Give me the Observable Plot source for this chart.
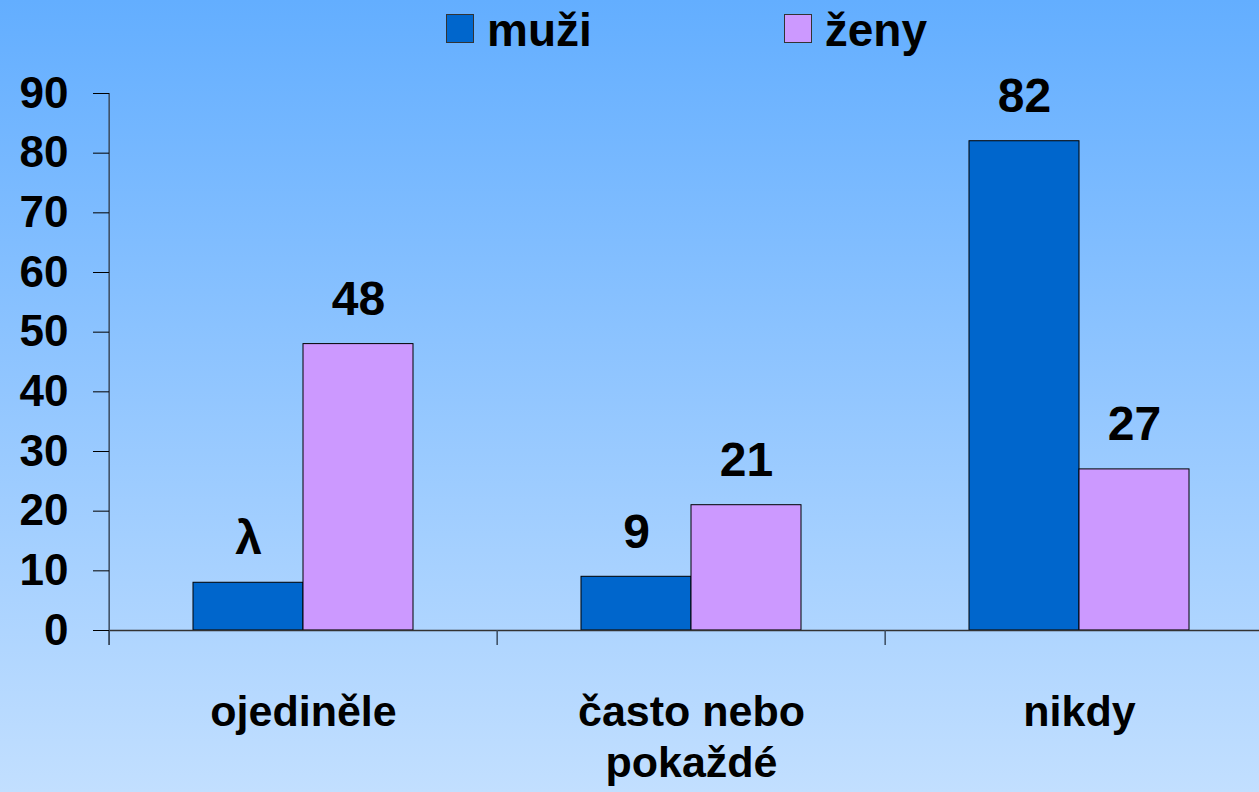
<!DOCTYPE html>
<html>
<head>
<meta charset="utf-8">
<script src="https://cdn.jsdelivr.net/npm/d3@7"></script>
<script src="https://cdn.jsdelivr.net/npm/@observablehq/plot@0.6"></script>
<style>
  html, body { margin: 0; padding: 0; }
  body {
    width: 1259px; height: 792px; overflow: hidden;
    background: linear-gradient(to bottom, #63aeff 0%, #c2dfff 100%);
    font-family: "Liberation Sans", Arial, sans-serif;
  }
  #legend {
    height: 60px; display: flex; align-items: center; padding-left: 446px; box-sizing: border-box;
  }
  .item { display: flex; align-items: center; margin-right: 192px; }
  .sw { width: 26px; height: 27px; border: 1px solid #333; margin-right: 13px; margin-top: -4px; }
  .lbl { font-size: 46px; font-weight: bold; color: #000; line-height: 1; }
</style>
</head>
<body>
<div id="legend"></div>
<div id="chart"></div>
<script>
const categories = ["ojediněle", "často nebo\npokaždé", "nikdy"];
const series = ["muži", "ženy"];
const seriesColors = ["#0066cc", "#cc99ff"];
const muzi = [8, 9, 82];
const zeny = [48, 21, 27];
const muziLabels = ["λ", "9", "82"];
const zenyLabels = ["48", "21", "27"];
const yTicks = [0, 10, 20, 30, 40, 50, 60, 70, 80, 90];

const data = [];
categories.forEach((c, i) => {
  data.push({cat: c, series: series[0], value: muzi[i], label: muziLabels[i]});
  data.push({cat: c, series: series[1], value: zeny[i], label: zenyLabels[i]});
});

// legend
const legend = document.getElementById("legend");
series.forEach((s, i) => {
  const it = document.createElement("div");
  it.className = "item";
  const sw = document.createElement("div");
  sw.className = "sw";
  sw.style.background = seriesColors[i];
  const lb = document.createElement("span");
  lb.className = "lbl";
  lb.textContent = s;
  it.appendChild(sw); it.appendChild(lb);
  legend.appendChild(it);
});

const W = 1259, H = 732;
const left = 108, right = 1274;
const bw = (right - left) / categories.length;
const yMax = yTicks[yTicks.length - 1];

const chart = Plot.plot({
  width: W,
  height: H,
  marginTop: 33,
  marginBottom: 162,
  marginLeft: left,
  marginRight: 0,
  style: {background: "transparent", fontFamily: "'Liberation Sans', Arial, sans-serif", color: "#000", overflow: "visible"},
  fx: {domain: categories, range: [left, right], padding: 0, axis: null},
  x: {domain: series, paddingInner: 0, paddingOuter: 0.75, axis: null},
  y: {domain: [0, yMax], axis: null},
  color: {domain: series, range: seriesColors},
  marks: [
    Plot.barY(data, {fx: "cat", x: "series", y: "value", fill: "series", stroke: "#000", strokeWidth: 1}),
    Plot.ruleY([0], {stroke: "#333", strokeWidth: 1.5}),
    // y axis line (left edge of first category band), extended below zero like the category ticks
    Plot.ruleX([categories[0]], {fx: d => d, x: null, dx: -bw / 2, y1: () => yMax, y2: () => 0, insetBottom: -15, stroke: "#3a4a5e", strokeWidth: 1.5}),
    // category separator ticks below the baseline
    Plot.ruleX(categories, {fx: d => d, x: null, dx: -bw / 2, y1: () => 0, y2: () => 0, insetBottom: -15, stroke: "#3a4a5e", strokeWidth: 1.5}),
    Plot.axisY({ticks: yTicks, tickSize: 16, tickPadding: 25, fontSize: 44, fontWeight: "bold", stroke: "#000", fill: "#000", label: null}),
    Plot.axisFx({anchor: "bottom", tickSize: 0, tickPadding: 60, fontSize: 43, fontWeight: "bold", lineHeight: 1.17, fill: "#000", label: null}),
    Plot.text(data, {fx: "cat", x: "series", y: "value", text: "label", dy: -29, lineAnchor: "bottom", fontSize: 48, fontWeight: "bold", fill: "#000"})
  ]
});
document.getElementById("chart").appendChild(chart);
</script>
</body>
</html>
